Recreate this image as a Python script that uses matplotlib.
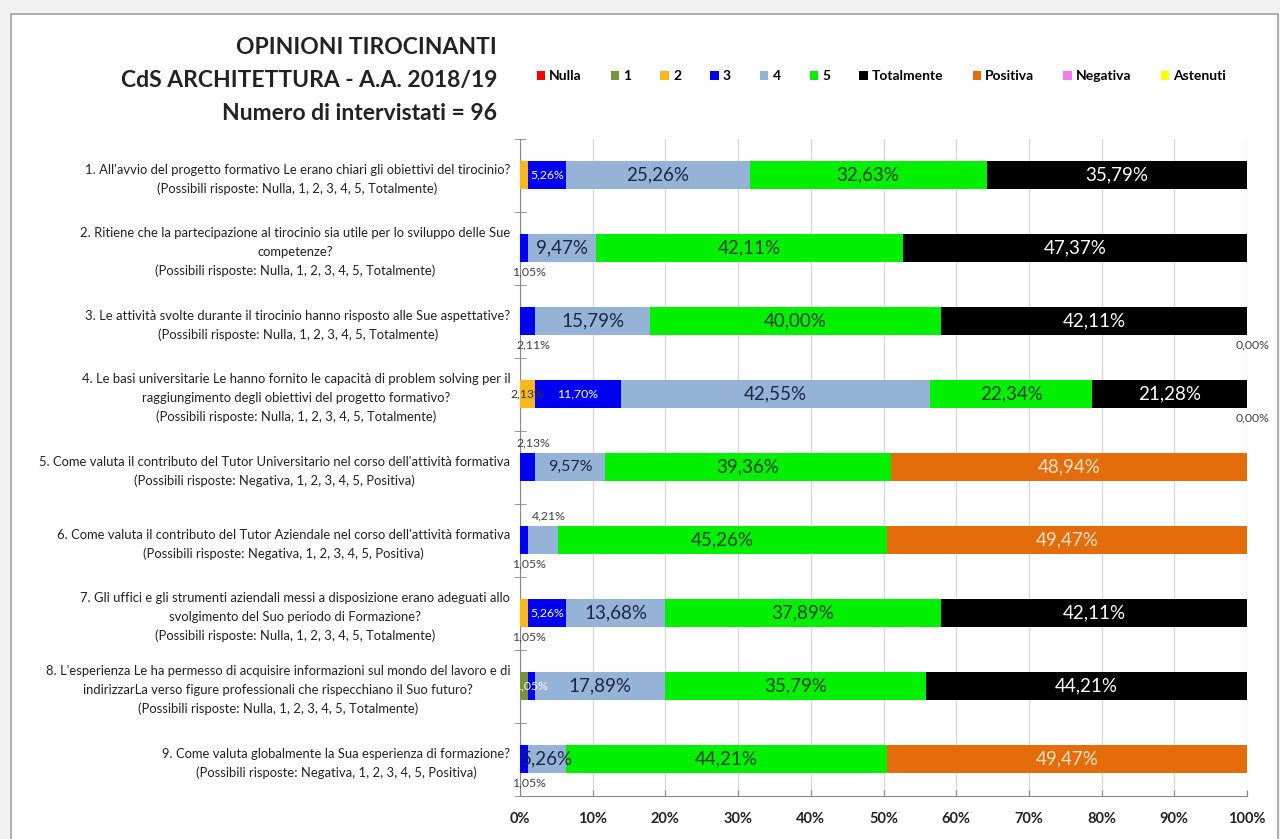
import numpy as np
import matplotlib
matplotlib.use('Agg')
import matplotlib.pyplot as plt
from matplotlib.patches import Patch, Rectangle

plt.rcParams['font.family'] = ['Lato', 'DejaVu Sans']

# domande (etichette asse y)
questions = [
    "1. All'avvio del progetto formativo Le erano chiari gli obiettivi del tirocinio?\n(Possibili risposte: Nulla, 1, 2, 3, 4, 5, Totalmente)",
    "2. Ritiene che la partecipazione al tirocinio sia utile per lo sviluppo delle Sue\ncompetenze?\n(Possibili risposte: Nulla, 1, 2, 3, 4, 5, Totalmente)",
    "3. Le attività svolte durante il tirocinio hanno risposto alle Sue aspettative?\n(Possibili risposte: Nulla, 1, 2, 3, 4, 5, Totalmente)",
    "4. Le basi universitarie Le hanno fornito le capacità di problem solving per il\nraggiungimento degli obiettivi del progetto formativo?\n(Possibili risposte: Nulla, 1, 2, 3, 4, 5, Totalmente)",
    "5. Come valuta il contributo del Tutor Universitario nel corso dell'attività formativa\n(Possibili risposte: Negativa, 1, 2, 3, 4, 5, Positiva)",
    "6. Come valuta il contributo del Tutor Aziendale nel corso dell'attività formativa\n(Possibili risposte: Negativa, 1, 2, 3, 4, 5, Positiva)",
    "7. Gli uffici e gli strumenti aziendali messi a disposizione erano adeguati allo\nsvolgimento del Suo periodo di Formazione?\n(Possibili risposte: Nulla, 1, 2, 3, 4, 5, Totalmente)",
    "8. L'esperienza Le ha permesso di acquisire informazioni sul mondo del lavoro e di\nindirizzarLa verso figure professionali che rispecchiano il Suo futuro?\n(Possibili risposte: Nulla, 1, 2, 3, 4, 5, Totalmente)",
    "9. Come valuta globalmente la Sua esperienza di formazione?\n(Possibili risposte: Negativa, 1, 2, 3, 4, 5, Positiva)",
]

# percentuali per risposta (None = nessun dato)
nulla = [0, 0, 0, 0, 0, 0, 0, 0, 0]
r1 = [0, 0, 0, 0, 0, 0, 0, 1.05, 0]
r2 = [1.05, 0, 0, 2.13, 0, 0, 1.05, 0, 0]
r3 = [5.26, 1.05, 2.11, 11.70, 2.13, 1.05, 5.26, 1.05, 1.05]
r4 = [25.26, 9.47, 15.79, 42.55, 9.57, 4.21, 13.68, 17.89, 5.26]
r5 = [32.63, 42.11, 40.00, 22.34, 39.36, 45.26, 37.89, 35.79, 44.21]
totalmente = [35.79, 47.37, 42.11, 21.28, 0, 0, 42.11, 44.21, 0]
positiva = [0, 0, 0, 0, 48.94, 49.47, 0, 0, 49.47]
negativa = [0, 0, 0, 0, 0, 0, 0, 0, 0]
astenuti = [None, None, 0, 0, None, None, None, None, None]

names = ['Nulla', '1', '2', '3', '4', '5', 'Totalmente', 'Positiva', 'Negativa', 'Astenuti']
series = [nulla, r1, r2, r3, r4, r5, totalmente, positiva, negativa, astenuti]
colors = ['#ff0000', '#77933c', '#f8b81c', '#0000f0', '#95b3d7', '#00f000',
          '#000000', '#e46c0a', '#f07cf0', '#ffff00']
txt_colors = {'1': 'white', '2': '#333333', '3': 'white', '4': '#1c2742',
              '5': '#0f3d0f', 'Totalmente': 'white', 'Positiva': '#fde3c8'}
big = {'4', '5', 'Totalmente', 'Positiva'}

# etichette piccole fuori dalla barra, e quelle nascoste
outside = {(1, '3'): 'below', (2, '3'): 'below', (5, '3'): 'below', (6, '2'): 'below',
           (8, '3'): 'below', (2, 'Astenuti'): 'below', (3, 'Astenuti'): 'below',
           (4, '3'): 'above', (5, '4'): 'above'}
hidden = {(0, '2'), (7, '1')}


def fmt(v):
    return f"{v:.2f}".replace('.', ',') + '%'


fig = plt.figure(figsize=(12.8, 8.39), dpi=100, facecolor='#f2f2f2')
fig.patches.append(Rectangle((11 / 1280, -0.01), 1267 / 1280, 1 - 14 / 839 + 0.01,
                             transform=fig.transFigure, facecolor='white',
                             edgecolor='#a0a0a0', lw=1.2, zorder=-1))
ax = fig.add_axes([520 / 1280, 1 - 795.5 / 839, 727 / 1280, 657 / 839])
ax.set_facecolor('none')

y = np.arange(len(questions))
left = np.zeros(len(questions))
for name, vals, col in zip(names, series, colors):
    v = np.array([0 if a is None else a for a in vals], dtype=float)
    bars = ax.barh(y, v, left=left, height=0.385, color=col, zorder=3)
    for i, (b, raw) in enumerate(zip(bars, vals)):
        if raw is None or (raw == 0 and name != 'Astenuti') or (i, name) in hidden:
            continue
        xc = b.get_x() + b.get_width() / 2
        pos = outside.get((i, name))
        if pos:
            dy = -17 if pos == 'below' else 17
            ax.annotate(fmt(raw), (xc, i), xytext=(4, dy), textcoords='offset points',
                        ha='center', va='center', fontsize=8.8, color='#404040', zorder=5)
        else:
            size = 13.5 if name in big else 8.8
            if (i, name) == (4, '4'):
                size = 11.5
            ax.text(xc, i, fmt(raw), ha='center', va='center', fontsize=size,
                    color=txt_colors.get(name, 'black'), zorder=5)
    left += v

ax.set_xlim(0, 100)
ax.set_ylim(len(questions) - 0.5, -0.5)
ax.set_xticks(np.arange(0, 101, 10))
ax.set_xticklabels([f"{t}%" for t in range(0, 101, 10)], fontsize=10.5, fontweight='bold',
                   color='#222222')
ax.tick_params(axis='x', direction='in', length=4, color='#888888', pad=12)
ax.set_yticks(y)
ax.set_yticklabels(questions, fontsize=9.4, color='#222222', linespacing=1.65,
                   multialignment='center')
ax.tick_params(axis='y', which='major', length=0, pad=7)
ax.set_yticks(np.arange(-0.5, len(questions), 1), minor=True)
ax.tick_params(axis='y', which='minor', direction='inout', length=8, color='#888888')
ax.grid(axis='x', color='#d9d9d9', lw=1, zorder=0)
for s in ['top', 'right']:
    ax.spines[s].set_visible(False)
for s in ['left', 'bottom']:
    ax.spines[s].set_color('#888888')

title_lines = ['OPINIONI TIROCINANTI', 'CdS ARCHITETTURA - A.A. 2018/19',
               'Numero di intervistati = 96']
for k, t in enumerate(title_lines):
    fig.text(497 / 1280, 1 - (48 + 32.5 * k) / 839, t, ha='right', va='center',
             fontsize=16.5, fontweight='bold', color='#222222')

handles = [Patch(facecolor=c, edgecolor='none') for c in colors]
fig.legend(handles, names, loc='center left', bbox_to_anchor=(524 / 1280, 1 - 76 / 839),
           ncol=10, frameon=False, handlelength=0.6, handleheight=0.6,
           handletextpad=0.3, columnspacing=2.1, prop=dict(weight='bold', size=10))

fig.savefig('out.png', dpi=100, facecolor=fig.get_facecolor())
